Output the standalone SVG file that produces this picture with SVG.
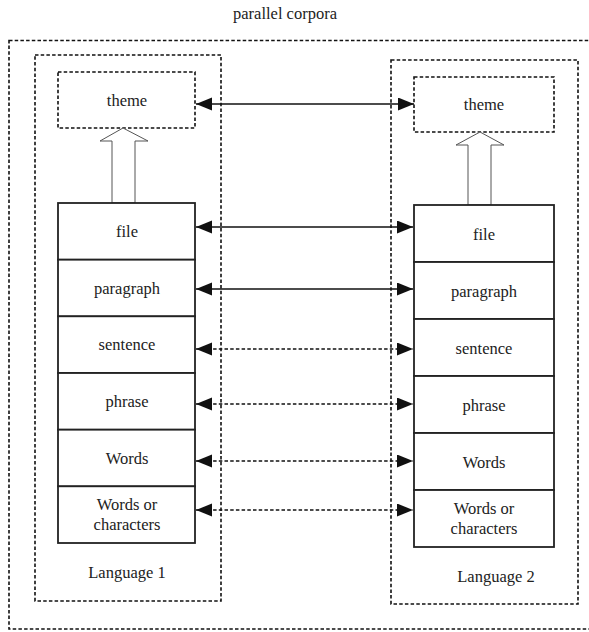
<svg xmlns="http://www.w3.org/2000/svg" width="589" height="632" viewBox="0 0 589 632" font-family="'Liberation Serif', 'DejaVu Serif', serif">
<style>
text{font-family:"Liberation Serif","DejaVu Serif",serif;font-size:16.5px;fill:#222;text-anchor:middle}
.dot{fill:none;stroke:#111;stroke-width:1.6;stroke-dasharray:3.5 2.2}
.cell{fill:#fff;stroke:#222;stroke-width:1.8}
.hollow{fill:#fff;stroke:#555;stroke-width:1}
.solid{stroke:#111;stroke-width:1.6;fill:none;marker-start:url(#ah);marker-end:url(#ah)}
.dash{stroke:#111;stroke-width:1.6;fill:none;stroke-dasharray:3.5 2.2;marker-start:url(#ah);marker-end:url(#ah)}
</style>
<defs>
<marker id="ah" markerUnits="userSpaceOnUse" markerWidth="17" markerHeight="14" refX="16" refY="6.5" orient="auto-start-reverse">
<path d="M0,0 L16,6.5 L0,13 z" fill="#111"/>
</marker>
</defs>
<rect width="589" height="632" fill="#fff"/>
<g id="corpus">
<text x="285" y="19">parallel corpora</text>
<rect class="dot" x="9" y="40.5" width="590" height="588.5"/>
</g>
<g id="lang1">
<rect class="dot" x="35" y="55" width="186" height="546"/>
<text x="127" y="578">Language 1</text>
</g>
<g id="lang2">
<rect class="dot" x="391" y="60" width="187" height="544"/>
<text x="496" y="582">Language 2</text>
</g>
<g id="theme1">
<rect class="dot" x="58" y="72" width="137" height="56"/>
<text x="127" y="106">theme</text>
</g>
<g id="theme2">
<rect class="dot" x="414" y="77" width="140" height="55"/>
<text x="484" y="110">theme</text>
</g>
<g id="up1">
<polygon class="hollow" points="123,128 100,141 112,141 112,203 135,203 135,141 148,141"/>
</g>
<g id="up2">
<polygon class="hollow" points="480,132 456,145 468,145 468,205 491,205 491,145 504,145"/>
</g>
<g id="stack1">
<rect class="cell" x="58" y="203" width="137" height="56.7"/>
<text x="127" y="237">file</text>
<rect class="cell" x="58" y="259.7" width="137" height="56.7"/>
<text x="127" y="294">paragraph</text>
<rect class="cell" x="58" y="316.3" width="137" height="56.7"/>
<text x="127" y="350">sentence</text>
<rect class="cell" x="58" y="373" width="137" height="56.7"/>
<text x="127" y="407">phrase</text>
<rect class="cell" x="58" y="429.7" width="137" height="56.7"/>
<text x="127" y="464">Words</text>
<rect class="cell" x="58" y="486.3" width="137" height="56.7"/>
<text x="127" y="510">Words or</text>
<text x="127" y="530">characters</text>
</g>
<g id="stack2">
<rect class="cell" x="414" y="205" width="140" height="57"/>
<text x="484" y="240">file</text>
<rect class="cell" x="414" y="262" width="140" height="57"/>
<text x="484" y="297">paragraph</text>
<rect class="cell" x="414" y="319" width="140" height="57"/>
<text x="484" y="354">sentence</text>
<rect class="cell" x="414" y="376" width="140" height="57"/>
<text x="484" y="411">phrase</text>
<rect class="cell" x="414" y="433" width="140" height="57"/>
<text x="484" y="468">Words</text>
<rect class="cell" x="414" y="490" width="140" height="57"/>
<text x="484" y="514">Words or</text>
<text x="484" y="534">characters</text>
</g>
<g id="connectors">
<line class="solid" x1="196" y1="104" x2="414" y2="104"/>
<line class="solid" x1="196" y1="227" x2="413" y2="227"/>
<line class="solid" x1="196" y1="289" x2="413" y2="289"/>
<line class="dash" x1="196" y1="349" x2="413" y2="349"/>
<line class="dash" x1="196" y1="404" x2="413" y2="404"/>
<line class="dash" x1="196" y1="461" x2="413" y2="461"/>
<line class="dash" x1="196" y1="510" x2="413" y2="510"/>
</g>
</svg>
